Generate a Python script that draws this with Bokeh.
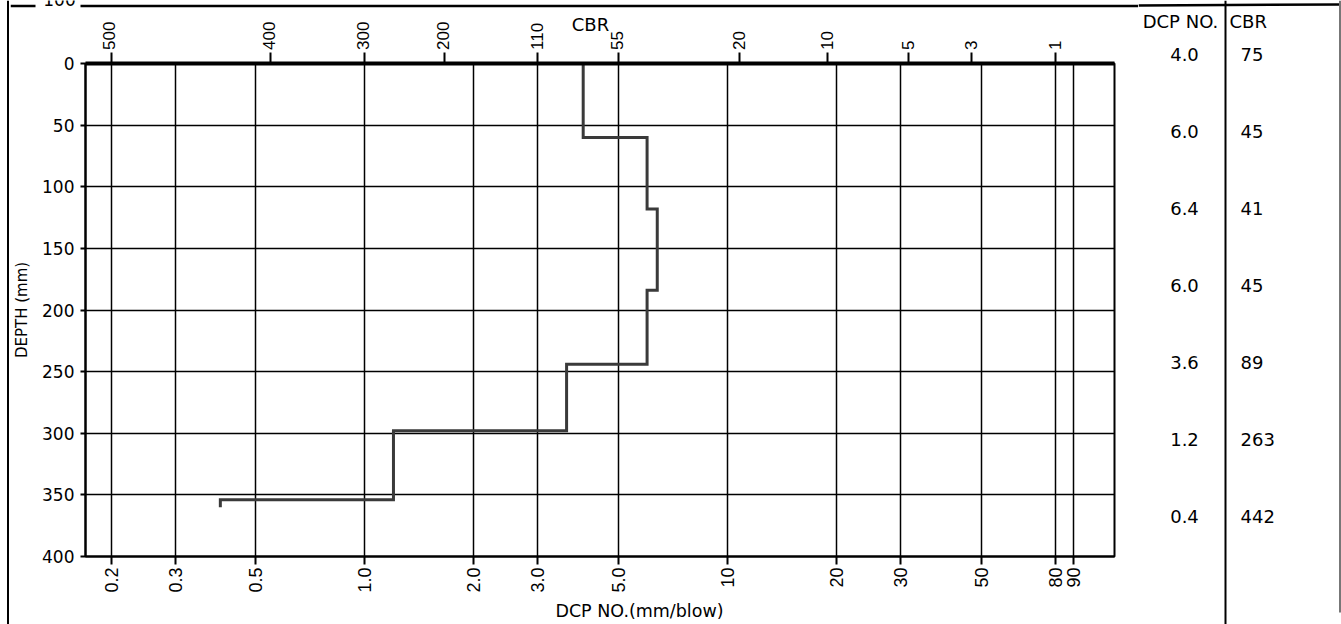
import math
from bokeh.plotting import figure
from bokeh.models import Range1d, FixedTicker, CustomJSTickFormatter, LogAxis
from bokeh.layouts import row, column
from bokeh.embed import file_html
from bokeh.resources import INLINE
from bokeh.core.properties import value

# ---------------- data ----------------
layer_top = [0, 60, 118, 184, 244, 298, 354]          # mm
layer_bottom = [60, 118, 184, 244, 298, 354, 360]     # mm
dcp = [4.0, 6.0, 6.4, 6.0, 3.6, 1.2, 0.4]             # mm/blow
dcp_text = ["4.0", "6.0", "6.4", "6.0", "3.6", "1.2", "0.4"]
cbr = [75, 45, 41, 45, 89, 263, 442]

bottom_ticks = [0.2, 0.3, 0.5, 1, 2, 3, 5, 10, 20, 30, 50, 80, 90]
bottom_labels = ["0.2", "0.3", "0.5", "1.0", "2.0", "3.0", "5.0", "10", "20", "30", "50", "80", "90"]
cbr_tick_pos = [0.2, 0.55, 1.0, 1.66, 3.0, 5.0, 10.8, 18.8, 31.6, 47.0, 80.0]
cbr_tick_labels = ["500", "400", "300", "200", "110", "55", "20", "10", "5", "3", "1"]
depth_ticks = [0, 50, 100, 150, 200, 250, 300, 350, 400]

FONT_T = "DejaVu Sans"
FONT_A = "Liberation Sans"

# ---------------- geometry (page pixels) ----------------
X0, X1 = 0.17, 116.5          # DCP range of the chart frame
FL, FR = 83, 1114             # chart frame left / right
STRIP = 10                    # left border strip width
COLW = 1138 - STRIP           # width of the chart column
TOPH, BOTH = 50, 29           # heights of top / bottom strips
CH = 624 - TOPH - BOTH        # chart height
TABW = 1341 - 1138
k = (math.log10(X1) - math.log10(X0)) / (FR - FL)


def px2x(px):
    return 10 ** (math.log10(X0) + (px - FL) * k)


def mkfig(**kw):
    kw.setdefault("output_backend", "svg")
    kw.setdefault("toolbar_location", None)
    try:
        f = figure(frame_align=False, **kw)
    except Exception:
        f = figure(**kw)
    f.background_fill_color = "white"
    f.border_fill_color = "white"
    return f


def bare(f):
    f.grid.visible = False
    f.outline_line_color = None
    return f


nearest_js = """
let best = 0, bd = Infinity;
for (let i = 0; i < pos.length; i++) {
  const d = Math.abs(Math.log(pos[i]) - Math.log(tick));
  if (d < bd) { bd = d; best = i; }
}
return labels[best];
"""

# ---------------- left border strip ----------------
strip = bare(mkfig(width=STRIP, height=624, x_range=Range1d(0, STRIP), y_range=Range1d(624, 0),
                   min_border=0, x_axis_location=None, y_axis_location=None))
strip.segment(x0=[7.5], y0=[0], x1=[7.5], y1=[624], line_color="black", line_width=2)

# ---------------- top strip: CBR labels ----------------
top = bare(mkfig(width=COLW, height=TOPH, x_axis_type="log",
                 x_range=Range1d(px2x(STRIP), px2x(1138)), y_range=Range1d(TOPH, 0),
                 min_border=0, x_axis_location=None, y_axis_location=None))
top.segment(x0=[px2x(STRIP), px2x(80)], y0=[5.5, 5.5], x1=[px2x(35), px2x(1138)], y1=[5.5, 5.5],
            line_color="black", line_width=2.5)
top.text(x=[px2x(59)], y=[-1], text=["100"], text_align="center", text_baseline="middle",
         text_font=value(FONT_T), text_font_size="17px", text_color="black")
top.text(x=cbr_tick_pos, y=[49.5] * len(cbr_tick_pos), text=cbr_tick_labels, angle=math.pi / 2,
         text_align="left", text_baseline="middle",
         text_font=value(FONT_A), text_font_size="17px", text_color="black")
top.text(x=[px2x(590)], y=[24], text=["CBR"], text_align="center", text_baseline="middle",
         text_font=value(FONT_T), text_font_size="18px", text_color="black")

# ---------------- chart ----------------
p = mkfig(width=COLW, height=CH, x_axis_type="log",
          x_range=Range1d(X0, X1), y_range=Range1d(400, 0),
          min_border_left=FL - STRIP, min_border_right=1138 - FR, min_border_top=13, min_border_bottom=38)
p.outline_line_color = "black"
p.outline_line_width = 2
p.outline_line_alpha = 1

p.xgrid.ticker = FixedTicker(ticks=bottom_ticks)
p.ygrid.ticker = FixedTicker(ticks=depth_ticks)
for g in (p.xgrid[0], p.ygrid[0]):
    g.grid_line_color = "black"
    g.grid_line_width = 1.5
    g.grid_line_alpha = 1

xa = p.xaxis[0]
xa.ticker = FixedTicker(ticks=bottom_ticks)
xa.formatter = CustomJSTickFormatter(args=dict(pos=bottom_ticks, labels=bottom_labels), code=nearest_js)
xa.major_label_orientation = math.pi / 2
xa.major_label_text_font = FONT_A
xa.major_label_text_font_size = "18px"
xa.major_label_text_color = "black"
xa.major_label_standoff = 3
xa.major_tick_out = 8
xa.major_tick_in = 0
xa.major_tick_line_width = 2
xa.minor_tick_line_color = None
xa.axis_line_width = 2

# top CBR scale: tick marks and heavy line (labels are in the strip above)
ta = LogAxis(ticker=FixedTicker(ticks=cbr_tick_pos),
             formatter=CustomJSTickFormatter(code="return ''"))
ta.major_label_orientation = math.pi / 2
ta.major_label_text_font_size = "1px"
ta.major_label_standoff = 0
ta.major_tick_out = 11
ta.major_tick_in = 0
ta.major_tick_line_width = 2
ta.minor_tick_line_color = None
ta.axis_line_width = 4
p.add_layout(ta, "above")

ya = p.yaxis[0]
ya.ticker = FixedTicker(ticks=depth_ticks)
ya.axis_label = "DEPTH (mm)"
ya.axis_label_text_font = FONT_T
ya.axis_label_text_font_style = "normal"
ya.axis_label_text_font_size = "15px"
ya.axis_label_text_color = "black"
ya.axis_label_standoff = 8
ya.major_label_text_font = FONT_T
ya.major_label_text_font_size = "17px"
ya.major_label_text_color = "black"
ya.major_label_standoff = 6
ya.major_tick_out = 5
ya.major_tick_in = 0
ya.major_tick_line_width = 2
ya.minor_tick_line_color = None
ya.axis_line_width = 2

xs, ys = [], []
for i in range(len(dcp)):
    xs += [dcp[i], dcp[i]]
    ys += [layer_top[i], layer_bottom[i]]
p.line(xs, ys, line_color="#3a3a3a", line_width=3, line_join="miter")

# ---------------- bottom strip: x caption ----------------
bot = bare(mkfig(width=COLW, height=BOTH, x_axis_type="log",
                 x_range=Range1d(px2x(STRIP), px2x(1138)), y_range=Range1d(624, 624 - BOTH),
                 min_border=0, x_axis_location=None, y_axis_location=None))
bot.text(x=[px2x(639)], y=[610], text=["DCP NO.(mm/blow)"], text_align="center", text_baseline="middle",
         text_font=value(FONT_T), text_font_size="17.5px", text_color="black")

# ---------------- table ----------------
t = bare(mkfig(width=TABW, height=624, x_range=Range1d(1138, 1341), y_range=Range1d(624, 0),
               min_border=0, x_axis_location=None, y_axis_location=None))
t.segment(x0=[1138], y0=[5], x1=[1341], y1=[4], line_color="black", line_width=2.5)
t.segment(x0=[1225], y0=[0], x1=[1225], y1=[624], line_color="black", line_width=2)
t.segment(x0=[1339.5], y0=[0], x1=[1339.5], y1=[612], line_color="#777777", line_width=2)
t.text(x=[1180], y=[21], text=["DCP NO."], text_align="center", text_baseline="middle",
       text_font=value(FONT_T), text_font_size="18px", text_color="black")
t.text(x=[1229], y=[21], text=["CBR"], text_align="left", text_baseline="middle",
       text_font=value(FONT_T), text_font_size="18px", text_color="black")
row_y = [54 + 77.0 * i for i in range(len(dcp))]
t.text(x=[1184] * len(dcp), y=row_y, text=dcp_text, text_align="center", text_baseline="middle",
       text_font=value(FONT_T), text_font_size="18px", text_color="black")
t.text(x=[1240] * len(cbr), y=row_y, text=[str(c) for c in cbr], text_align="left", text_baseline="middle",
       text_font=value(FONT_T), text_font_size="18px", text_color="black")

layout = row(strip, column(top, p, bot), t)
open("out.html", "w").write(file_html(layout, INLINE))
